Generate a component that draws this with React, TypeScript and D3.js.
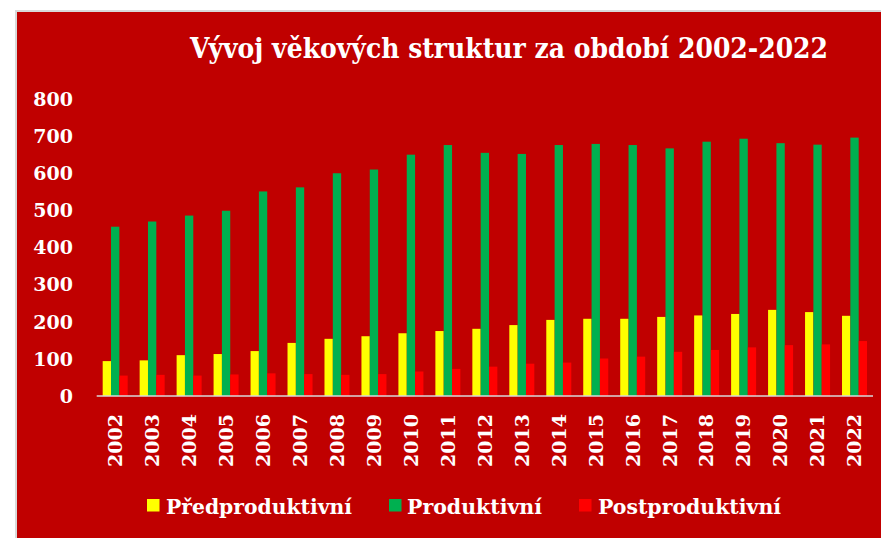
import React from "react";
import * as d3 from "d3";

const years = ["2002","2003","2004","2005","2006","2007","2008","2009","2010","2011","2012","2013","2014","2015","2016","2017","2018","2019","2020","2021","2022"];
const predproduktivni = [94, 96, 110, 113, 121, 143, 154, 161, 169, 175, 181, 191, 205, 208, 208, 213, 217, 221, 232, 226, 216];
const produktivni = [456, 470, 486, 499, 551, 562, 600, 610, 650, 676, 655, 652, 676, 679, 676, 667, 685, 693, 681, 677, 696];
const postproduktivni = [55, 57, 55, 58, 61, 59, 57, 59, 66, 73, 79, 87, 90, 101, 106, 119, 124, 131, 137, 139, 148];
const yTicks = [0, 100, 200, 300, 400, 500, 600, 700, 800];
const seriesNames = ["Předproduktivní", "Produktivní", "Postproduktivní"];
const seriesColors = ["#FFFF00", "#00B050", "#FF0000"];

const W = 881;
const H = 538;
const BG = "#C00000";
const SERIF = "'DejaVu Serif', serif";

export default function App() {
  const x0 = d3.scaleBand<string>().domain(years).range([96.7, 873]).padding(0);
  const groupW = 25;
  const x1 = d3.scaleBand<number>().domain([0, 1, 2]).range([0, groupW]).padding(0);
  const y = d3.scaleLinear().domain([0, 800]).range([396, 99]);
  const allSeries = [predproduktivni, produktivni, postproduktivni];
  const off = (x0.bandwidth() - groupW) / 2;

  const legendItems = [
    { sq: 147, tx: 166, len: 186 },
    { sq: 389, tx: 407, len: 135 },
    { sq: 579, tx: 598, len: 183 },
  ];

  return (
    <svg width={W} height={H} style={{ position: "absolute", left: 0, top: 0, display: "block" }}>
      <rect x={0} y={0} width={W} height={H} fill="#ffffff" />
      <rect x={16} y={11} width={W + 10} height={H + 10} fill={BG} stroke="#d9d9d9" strokeWidth={2} />
      <text x={509} y={58} textAnchor="middle" fill="#ffffff" fontFamily={SERIF} fontWeight="bold" fontSize={27}
        textLength={638} lengthAdjust="spacingAndGlyphs">
        Vývoj věkových struktur za období 2002-2022
      </text>
      {yTicks.map((t) => (
        <text key={t} x={73} y={y(t)} dy="0.36em" textAnchor="end" fill="#ffffff" fontFamily={SERIF}
          fontWeight="bold" fontSize={19}>
          {t}
        </text>
      ))}
      {years.map((yr, i) => (
        <g key={yr} transform={`translate(${(x0(yr) ?? 0) + off},0)`}>
          {allSeries.map((s, k) => (
            <rect key={k} x={x1(k)} y={y(s[i])} width={x1.bandwidth()} height={y(0) - y(s[i])} fill={seriesColors[k]} />
          ))}
        </g>
      ))}
      <line x1={96.7} x2={873} y1={396} y2={396} stroke="#d9d9d9" strokeWidth={1.5} />
      {years.map((yr) => {
        const cx = (x0(yr) ?? 0) + x0.bandwidth() / 2;
        return (
          <text key={yr} transform={`translate(${cx},414) rotate(-90)`} textAnchor="end" dy="0.36em"
            fill="#ffffff" fontFamily={SERIF} fontWeight="bold" fontSize={19}>
            {yr}
          </text>
        );
      })}
      {legendItems.map((it, k) => (
        <g key={k}>
          <rect x={it.sq} y={499} width={12.5} height={12.5} fill={seriesColors[k]} />
          <text x={it.tx} y={514} fill="#ffffff" fontFamily={SERIF} fontWeight="bold" fontSize={20}
            textLength={it.len} lengthAdjust="spacingAndGlyphs">
            {seriesNames[k]}
          </text>
        </g>
      ))}
    </svg>
  );
}
